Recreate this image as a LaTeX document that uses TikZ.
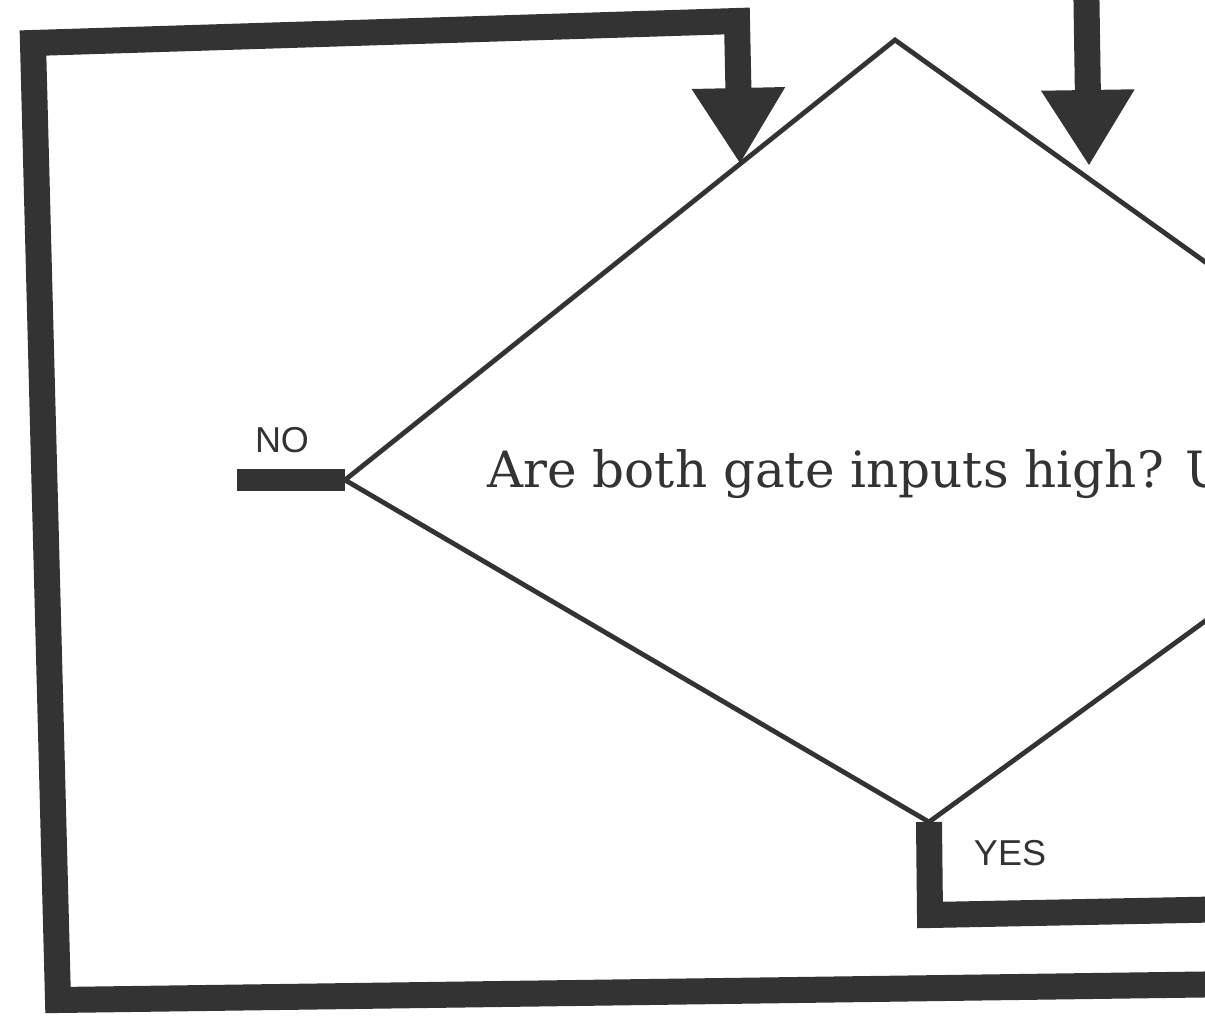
\documentclass[tikz,border=0pt]{standalone}
\usepackage{fontspec}
\newfontfamily\lblfont{Liberation Sans}
\newfontfamily\askfont{DejaVu Serif}
\usetikzlibrary{arrows.meta,positioning}
\definecolor{ink}{HTML}{333333}
\tikzset{
  flowline/.style={ink,line width=13pt,line join=miter},
  flowarrow/.style={flowline,-{Triangle[width=44pt,length=38pt]}},
  decision/.style={ink,line width=2.4pt,line join=miter},
  lbl/.style={font=\lblfont\fontsize{18}{20}\selectfont,text=ink,inner sep=0pt},
}
\begin{document}
\begin{tikzpicture}[x=0.5pt,y=-0.5pt]
  \clip (0,0) rectangle (1205,1016);
  \fill[white] (0,0) rectangle (1205,1016);
  % corners of the decision box (its right corner lies off the page)
  \coordinate (dtop) at (895,40);
  \coordinate (dleft) at (345,480);
  \coordinate (dbot) at (929,822);
  \coordinate (dright) at (1454,440);
  \coordinate (inleft) at (740,164);
  \coordinate (inright) at (1089,166);
  \draw[decision] (dtop) -- (dleft) -- (dbot) -- (dright) -- cycle;
  \node[anchor=base west,text=ink,inner sep=0pt,font=\askfont\fontsize{25}{28}\selectfont]
    (ask) at (487,487) {Are both gate inputs high? U};
  % the loop back round the left side
  \coordinate (loopin) at (1240,984);
  \draw[flowarrow] (loopin) -- (58,1000) -- (33,43) -- (737,21) -- (inleft);
  \coordinate (fromabove) at (1086,-30);
  \draw[flowarrow] (fromabove) -- (inright);
  % the two exits
  \coordinate (nostub) at (237,480);
  \draw[flowline,line width=11pt] (nostub) -- (dleft);
  \coordinate (yesout) at (1240,909);
  \draw[flowline] (dbot) -- (930,915) -- (yesout);
  \node[lbl] (no) at (282,440) {NO};
  \node[lbl] (yes) at (1010,853) {YES};
\end{tikzpicture}
\end{document}
